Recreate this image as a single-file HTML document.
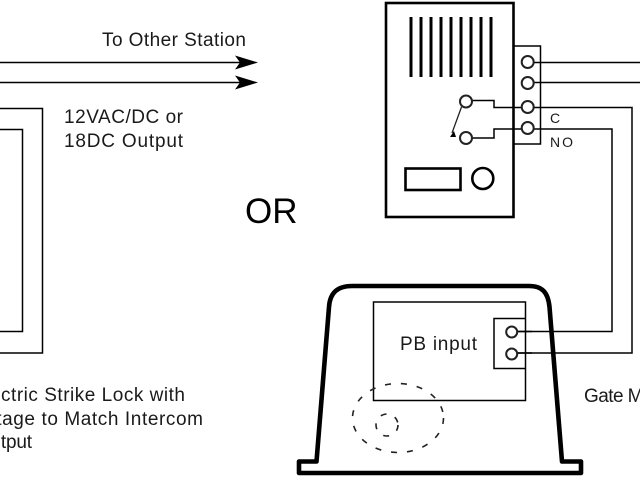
<!DOCTYPE html>
<html>
<head>
<meta charset="utf-8">
<style>
html,body{margin:0;padding:0;background:#fff;width:640px;height:480px;overflow:hidden}
svg{display:block}
text{font-family:"Liberation Sans",sans-serif;fill:#1a1a1a;font-size:19px}
</style>
</head>
<body>
<svg width="640" height="480" viewBox="0 0 640 480" xmlns="http://www.w3.org/2000/svg">
<rect width="640" height="480" fill="#fff"/>
<g fill="none" stroke="#000">
  <!-- left wires -->
  <path d="M0 62.5H240M0 82.5H240" stroke-width="1.6"/>
  <path d="M-5 108.5H42.5V353H-5M-5 129.5H22.5V331.5H-5" stroke-width="1.5"/>
  <!-- intercom -->
  <rect x="386" y="3" width="127.5" height="214" stroke-width="2.6"/>
  <path d="M411 17V77M421 17V77M431 17V77M441 17V77M451 17V77M461 17V77M471 17V77M481 17V77M491 17V77" stroke-width="3"/>
  <path d="M513.5 46H540.5V144H513.5" stroke-width="1.5"/>
  <rect x="405.5" y="168.5" width="55" height="21.5" stroke-width="2.6"/>
  <circle cx="482.8" cy="178.5" r="10.5" stroke-width="2.6"/>
  <!-- wires -->
  <path d="M534 62.5H640M534 82.5H640" stroke-width="1.5"/>
  <path d="M472 100.5H494V107.5H632V353H517" stroke-width="1.5"/>
  <path d="M472 138H494V129H612V331.5H517" stroke-width="1.5"/>
  <path d="M461.5 107L452 133" stroke-width="1.3" stroke="#222"/>
  <!-- terminals -->
  <g stroke-width="2" fill="#fff" stroke="#222">
    <circle cx="527.7" cy="62" r="6"/>
    <circle cx="527.7" cy="83" r="6"/>
    <circle cx="527.7" cy="107" r="6"/>
    <circle cx="527.7" cy="128" r="6"/>
    <circle cx="466" cy="101.5" r="6"/>
    <circle cx="466" cy="138" r="6"/>
  </g>
  <!-- device -->
  <path d="M316.5 461.5L329 307C330 292 338 286 352 286H529C542 286 548 292 549.5 307L562 461.5H581V473H299V461.5Z" stroke-width="4.6" stroke-linejoin="round"/>
  <rect x="373.5" y="302" width="152" height="98.5" stroke-width="1.5"/>
  <path d="M525.5 318.5H494V368.5H525.5" stroke-width="1.5"/>
  <path d="M517 331.5H532M517 353H532" stroke-width="1.5"/>
  <g stroke-width="2" fill="#fff" stroke="#222">
    <circle cx="511.7" cy="332" r="5.5"/>
    <circle cx="511.7" cy="354" r="5.5"/>
  </g>
  <ellipse cx="398" cy="418" rx="45.5" ry="34.5" stroke-width="1.6" stroke-dasharray="6 10" stroke="#222"/>
  <ellipse cx="387" cy="425" rx="11" ry="11" stroke-width="1.6" stroke-dasharray="6 9" stroke="#222"/>
</g>
<!-- arrowheads -->
<path d="M235 55.5L258 62.5L235 69.5L240 62.5Z" fill="#000"/>
<path d="M235 75.5L258 82.5L235 89.5L240 82.5Z" fill="#000"/>
<path d="M450 137L454 131L456 137Z" fill="#000"/>
<!-- labels -->
<text x="102" y="46" textLength="144" lengthAdjust="spacing">To Other Station</text>
<text x="64" y="123" textLength="119" lengthAdjust="spacing">12VAC/DC or</text>
<text x="64" y="147" textLength="119" lengthAdjust="spacing">18DC Output</text>
<text x="245" y="223" style="font-size:35px;fill:#000">OR</text>
<text x="550" y="123" style="font-size:14px">C</text>
<text x="550" y="147" style="font-size:14px" textLength="23" lengthAdjust="spacing">NO</text>
<text x="400" y="350" textLength="77" lengthAdjust="spacing">PB input</text>
<text x="584" y="402" textLength="90" lengthAdjust="spacing">Gate Motor</text>
<text x="-28" y="401" textLength="213" lengthAdjust="spacing">Electric Strike Lock with</text>
<text x="-32" y="425" textLength="235" lengthAdjust="spacing">Voltage to Match Intercom</text>
<text x="-24" y="448" textLength="56" lengthAdjust="spacing">Output</text>
</svg>
</body>
</html>
